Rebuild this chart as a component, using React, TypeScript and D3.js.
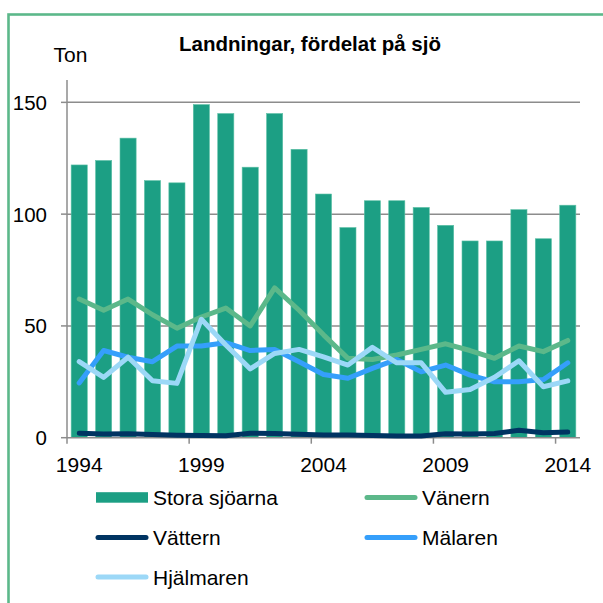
import * as d3 from "d3";

const years = d3.range(1994, 2015).map(String);
const storaSjoarna = [122, 124, 134, 115, 114, 149, 145, 121, 145, 129, 109, 94, 106, 106, 103, 95, 88, 88, 102, 89, 104];
const vanern = [62, 57, 62, 55, 49, 54, 58, 50, 67, 57, 46, 35.5, 35, 37, 39.5, 42, 39, 35.5, 41, 38.5, 43.5];
const vattern = [2, 1.6, 1.8, 1.4, 1.1, 1, 0.9, 2, 1.9, 1.5, 1.2, 1.2, 1, 0.8, 0.8, 1.8, 1.6, 1.9, 3.3, 2.2, 2.5];
const malaren = [24.5, 39, 36, 34, 41, 41, 42.5, 39, 39.5, 34, 28.3, 26.6, 31, 35, 29.5, 32.5, 28, 25, 25, 26, 33.5];
const hjalmaren = [34, 27, 36, 25.5, 24.3, 53, 41.5, 30.8, 37.7, 39.5, 36.2, 32.5, 40.4, 33.5, 33.5, 20.3, 21.6, 27, 34.4, 22.8, 25.4];
const yTicks = [0, 50, 100, 150];
const xLabelYears = ["1994", "1999", "2004", "2009", "2014"];

const lineSeries = [
  { name: "Vänern", values: vanern, color: "#5cb88a" },
  { name: "Vättern", values: vattern, color: "#003462" },
  { name: "Mälaren", values: malaren, color: "#359ffb" },
  { name: "Hjälmaren", values: hjalmaren, color: "#9cd8f7" },
];
const barColor = "#1c9f84";
const font = "'Liberation Sans', Arial, sans-serif";

export default function App() {
  const left = 67;
  const right = 580;
  const top = 80;
  const bottom = 437.7;

  const x = d3.scaleBand().domain(years).range([left, right]).paddingInner(0.34).paddingOuter(0.17);
  const y = d3.scaleLinear().domain([0, 160]).range([bottom, top]);
  const step = x.step();

  const line = d3
    .line<number>()
    .x((_, i) => x(years[i])! + x.bandwidth() / 2)
    .y((d) => y(d));

  // ticks between categories, every fifth
  const tickPositions = [0, 5, 10, 15, 20].map((i) => left + i * step);

  const legend = [
    { name: "Stora sjöarna", type: "bar", color: barColor, lx: 96, ly: 497.5 },
    { name: "Vänern", type: "line", color: lineSeries[0].color, lx: 365, ly: 497.5 },
    { name: "Vättern", type: "line", color: lineSeries[1].color, lx: 96, ly: 537.5 },
    { name: "Mälaren", type: "line", color: lineSeries[2].color, lx: 365, ly: 537.5 },
    { name: "Hjälmaren", type: "line", color: lineSeries[3].color, lx: 96, ly: 577 },
  ];

  return (
    <svg
      width={603}
      height={603}
      style={{ position: "absolute", left: 0, top: 0, background: "#fff" }}
      fontFamily={font}
    >
      <rect x={8.5} y={14.5} width={700} height={700} fill="#fff" stroke="#5cb88a" strokeWidth={2.6} />

      <text x={310} y={51} textAnchor="middle" fontSize={20.5} fontWeight="bold" fill="#000">
        Landningar, fördelat på sjö
      </text>
      <text x={53.5} y={62.3} fontSize={21} fill="#000">
        Ton
      </text>

      {/* gridlines */}
      {yTicks.slice(1).map((t) => (
        <line key={t} x1={left} x2={right} y1={y(t)} y2={y(t)} stroke="#8c8c8c" strokeWidth={1.5} />
      ))}

      {/* bars */}
      {storaSjoarna.map((v, i) => (
        <rect
          key={years[i]}
          x={x(years[i])}
          y={y(v)}
          width={x.bandwidth()}
          height={y(0) - y(v)}
          fill={barColor}
          stroke="#5dc0a6"
          strokeWidth={0.6}
        />
      ))}

      {/* axes */}
      <line x1={left} x2={left} y1={top} y2={bottom} stroke="#8c8c8c" strokeWidth={1.5} />
      <line x1={left} x2={right} y1={bottom} y2={bottom} stroke="#8c8c8c" strokeWidth={1.5} />
      {yTicks.map((t) => (
        <g key={t}>
          <line x1={left - 6} x2={left} y1={y(t)} y2={y(t)} stroke="#8c8c8c" strokeWidth={1.5} />
          <text x={47} y={y(t)} dy="0.36em" textAnchor="end" fontSize={20.5} fill="#000">
            {t}
          </text>
        </g>
      ))}
      {tickPositions.map((p) => (
        <line key={p} x1={p} x2={p} y1={bottom} y2={bottom + 6} stroke="#8c8c8c" strokeWidth={1.5} />
      ))}
      {xLabelYears.map((yr) => (
        <text
          key={yr}
          x={x(yr)! + x.bandwidth() / 2}
          y={464.2}
          dy="0.36em"
          textAnchor="middle"
          fontSize={21}
          fill="#000"
        >
          {yr}
        </text>
      ))}

      {/* lines */}
      {lineSeries.map((s) => (
        <path
          key={s.name}
          d={line(s.values)!}
          fill="none"
          stroke={s.color}
          strokeWidth={5}
          strokeLinejoin="round"
          strokeLinecap="round"
        />
      ))}

      {/* legend */}
      {legend.map((l) => (
        <g key={l.name}>
          {l.type === "bar" ? (
            <rect x={l.lx} y={l.ly - 5.3} width={52} height={10.5} fill={l.color} />
          ) : (
            <line
              x1={l.lx + 2}
              x2={l.lx + 50}
              y1={l.ly}
              y2={l.ly}
              stroke={l.color}
              strokeWidth={5}
              strokeLinecap="round"
            />
          )}
          <text x={l.lx + 57} y={l.ly} dy="0.36em" fontSize={21} fill="#000">
            {l.name}
          </text>
        </g>
      ))}
    </svg>
  );
}
